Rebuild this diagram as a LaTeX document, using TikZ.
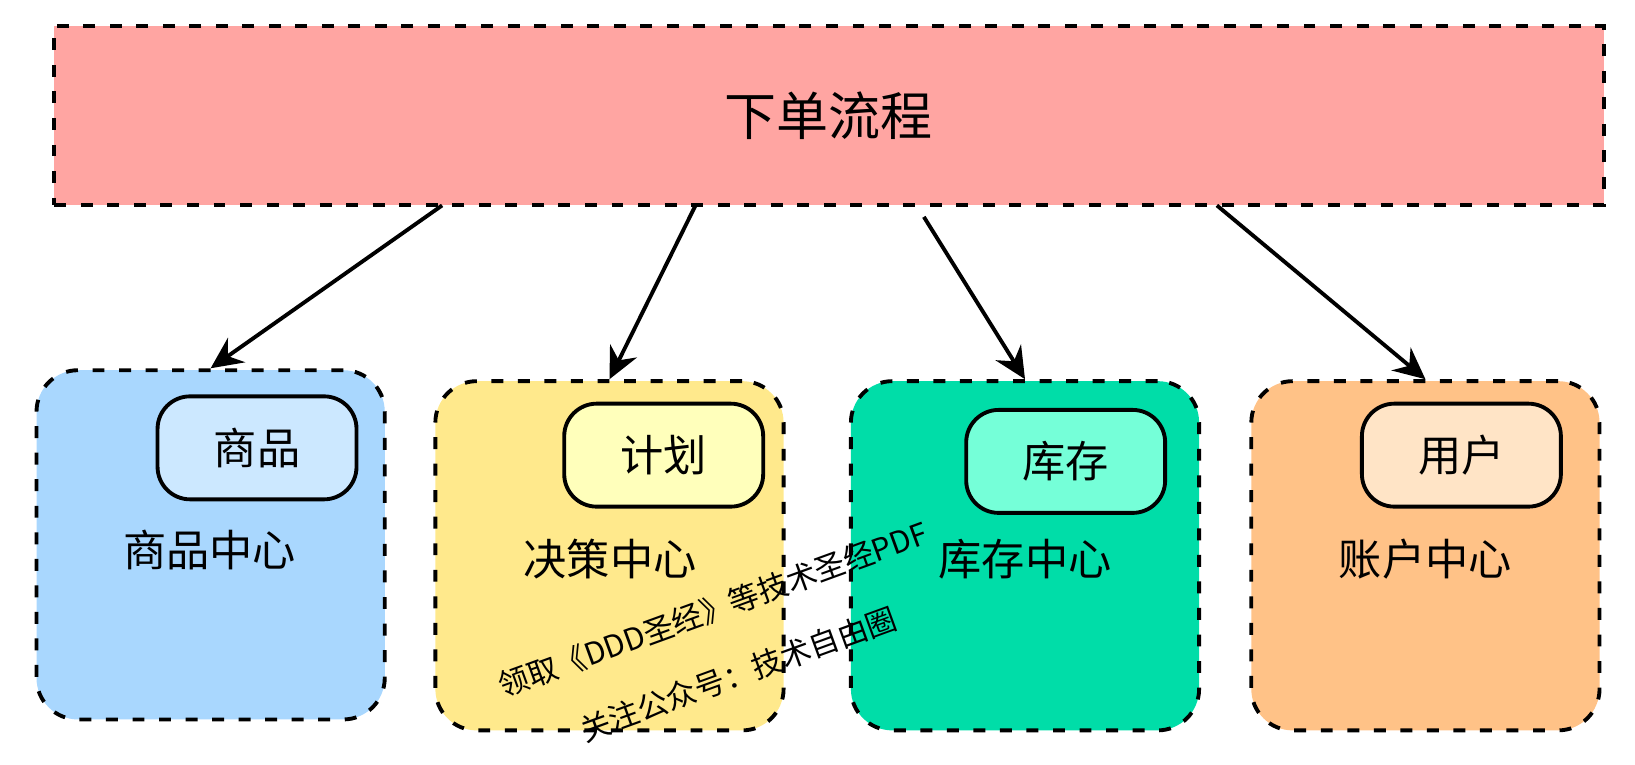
\documentclass[tikz,border=0pt]{standalone}
\usepackage{fontspec}
\setmainfont{Noto Sans CJK SC}
\usetikzlibrary{arrows.meta}

\definecolor{flowpink}{HTML}{FFA5A2}
\definecolor{goodsblue}{HTML}{A9D7FE}
\definecolor{goodslight}{HTML}{CCE8FF}
\definecolor{planyellow}{HTML}{FFE98C}
\definecolor{planlight}{HTML}{FFFFBB}
\definecolor{stockgreen}{HTML}{00DDA8}
\definecolor{stocklight}{HTML}{75FFD8}
\definecolor{userorange}{HTML}{FFC287}
\definecolor{userlight}{HTML}{FFE4C6}

\begin{document}
\begin{tikzpicture}[x=0.020855cm,y=-0.020855cm,
    center/.style={draw, line width=2.2pt, dash pattern=on 6.8pt off 8.3pt, rounded corners=0.83cm, minimum width=6.966cm, minimum height=6.986cm},
    tag/.style={draw, line width=2.2pt, rounded corners=0.65cm, minimum width=3.98cm, minimum height=2.06cm, font=\fontsize{24.6}{24.6}\selectfont},
    centername/.style={font=\fontsize{24.6}{24.6}\selectfont},
    watermark/.style={rotate=20, font=\fontsize{17.3}{17.3}\selectfont},
    arr/.style={line width=2.2pt, -{Stealth[length=18pt,width=17pt,inset=6pt]}}]
    \useasboundingbox (0,0) rectangle (1568,732.7);

    % Processo de pedido
    \node[draw, line width=2.2pt, dash pattern=on 6.8pt off 8.3pt, fill=flowpink, minimum width=30.99cm, minimum height=3.58cm, font=\fontsize{29.6}{29.6}\selectfont] (order) at (795,110.8) {下单流程};

    % Centros
    \node[center, fill=goodsblue] (goods) at (202,522.5) {};
    \node[center, fill=planyellow] (plan) at (584.5,533) {};
    \node[center, fill=stockgreen] (stock) at (983,533) {};
    \node[center, fill=userorange] (account) at (1367,533) {};

    % Etiquetas
    \node[tag, fill=goodslight] (goodstag) at (246.5,429.5) {商品};
    \node[tag, fill=planlight] (plantag) at (636.5,436.5) {计划};
    \node[tag, fill=stocklight] (stocktag) at (1022,442.5) {库存};
    \node[tag, fill=userlight] (accounttag) at (1401.5,436.5) {用户};

    % Nomes dos centros
    \node[centername] (goodsname) at (201,527) {商品中心};
    \node[centername] (planname) at (585,536) {决策中心};
    \node[centername] (stockname) at (983,536) {库存中心};
    \node[centername] (accountname) at (1367,536) {账户中心};

    % Setas
    \coordinate (s1) at (424,197);
    \coordinate (s2) at (667,197);
    \coordinate (s3) at (886,208);
    \coordinate (s4) at (1167,197);
    \draw[arr] (s1) -- (goods.north);
    \draw[arr] (s2) -- (plan.north);
    \draw[arr] (s3) -- (stock.north);
    \draw[arr] (s4) -- (account.north);

    % Marca d'agua
    \node[watermark] (wm1) at (683.8,584.4) {领取《DDD圣经》等技术圣经PDF};
    \node[watermark] (wm2) at (708.1,646.4) {关注公众号：技术自由圈};
\end{tikzpicture}
\end{document}
